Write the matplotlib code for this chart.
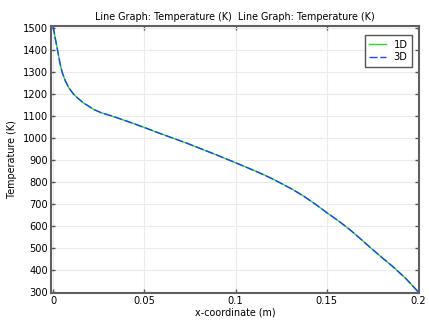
import matplotlib
matplotlib.use("Agg")
import matplotlib.pyplot as plt

x_coord = [0, 0.0012, 0.0024, 0.0036, 0.0049, 0.0066, 0.0085, 0.011, 0.0135, 0.0166,
           0.019, 0.0221, 0.0265, 0.0305, 0.0349, 0.0425, 0.0504, 0.058, 0.0659, 0.0735,
           0.0805, 0.089, 0.097, 0.1045, 0.1116, 0.118, 0.1244, 0.131, 0.137, 0.1435,
           0.15, 0.1565, 0.1627, 0.168, 0.1737, 0.18, 0.1865, 0.1935, 0.2]
temp_1d = [1510, 1452, 1400, 1347, 1300, 1262, 1230, 1202, 1182, 1160,
           1148, 1131, 1115, 1105, 1093, 1071, 1047, 1023, 999, 976,
           953, 925, 898, 872, 847, 823, 796, 767, 737, 700,
           660, 622, 582, 544, 502, 457, 412, 358, 300]
temp_3d = list(temp_1d)
x_ticks = [0, 0.05, 0.1, 0.15, 0.2]
x_tick_labels = ["0", "0.05", "0.1", "0.15", "0.2"]
y_ticks = list(range(300, 1501, 100))
title = "Line Graph: Temperature (K)  Line Graph: Temperature (K)"

plt.rcParams['font.family'] = ['DejaVu Sans']
fig = plt.figure(figsize=(4.29, 3.23), dpi=100)
ax = fig.add_axes([51/429, 1-293/323, (419-51)/429, (293-26)/323])

ax.plot(x_coord, temp_1d, color='#22e022', lw=1.0, label='1D')
ax.plot(x_coord, temp_3d, color='#2040ff', lw=1.0, ls=(0, (5.8, 2)), label='3D')

ax.set_xlim(-0.0012, 0.2005)
ax.set_ylim(294, 1511)
ax.set_xticks(x_ticks)
ax.set_xticklabels(x_tick_labels)
ax.set_yticks(y_ticks)
ax.grid(True, color='#ebebeb', lw=0.8)
ax.set_axisbelow(True)
ax.tick_params(direction='in', top=True, right=True, length=3, width=1,
               color='#555555', labelsize=7.1, pad=2)
for s in ax.spines.values():
    s.set_color('#606060')
    s.set_linewidth(1.5)

ax.set_title(title, fontsize=6.9, pad=4)
ax.set_xlabel("x-coordinate (m)", fontsize=6.9, labelpad=1)
ax.set_ylabel("Temperature (K)", fontsize=6.9, labelpad=4)

leg = ax.legend(loc='upper right', fontsize=7.1, fancybox=False, framealpha=1,
                edgecolor='#555555', handlelength=1.65, handletextpad=0.8,
                borderpad=0.45, labelspacing=0.3, borderaxespad=0,
                bbox_to_anchor=(0.981, 0.966))
leg.get_frame().set_linewidth(1.0)

fig.savefig("out.png", dpi=100)
